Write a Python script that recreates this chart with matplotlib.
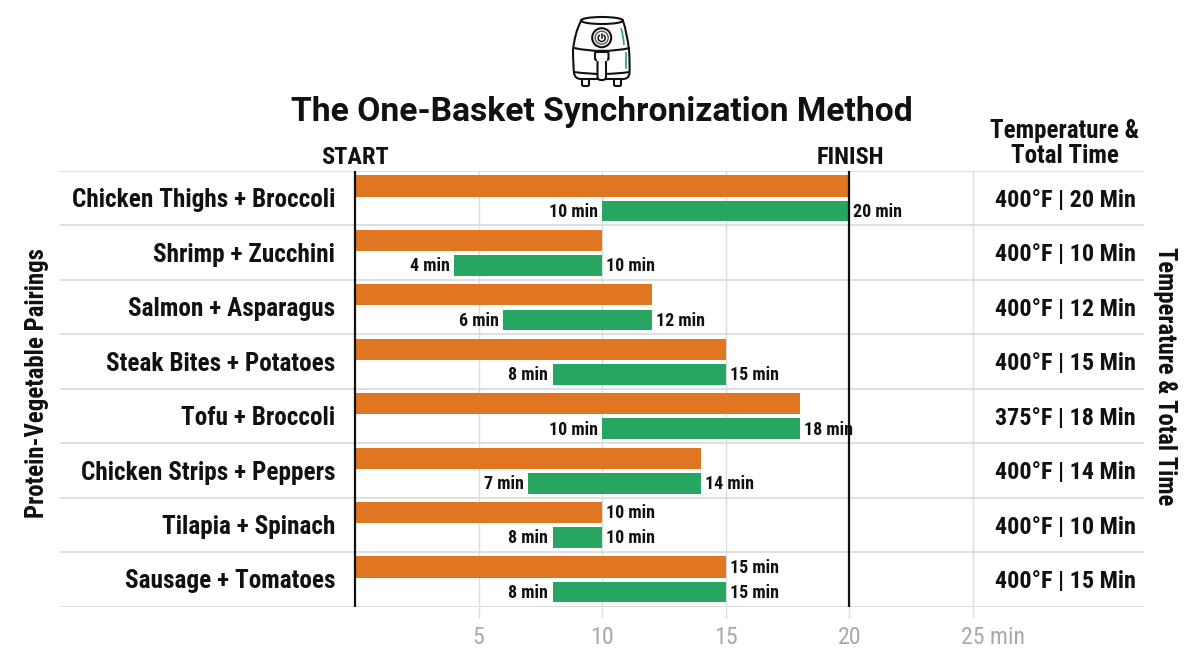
"""One-basket air fryer timing chart: when each food goes in so both finish together."""

from __future__ import annotations

import matplotlib

matplotlib.use("Agg")
from matplotlib import pyplot as plt
from matplotlib.patches import Arc, Circle, Ellipse, FancyBboxPatch, PathPatch
from matplotlib.path import Path
from matplotlib.transforms import ScaledTranslation

pairings = [
    "Chicken Thighs + Broccoli",
    "Shrimp + Zucchini",
    "Salmon + Asparagus",
    "Steak Bites + Potatoes",
    "Tofu + Broccoli",
    "Chicken Strips + Peppers",
    "Tilapia + Spinach",
    "Sausage + Tomatoes",
]
total_minutes = [20, 10, 12, 15, 18, 14, 10, 15]
veg_start = [10, 4, 6, 8, 10, 7, 8, 8]
temperature_f = [400, 400, 400, 400, 375, 400, 400, 400]
labelled_protein = ["Tilapia + Spinach", "Sausage + Tomatoes"]
tick_values = [5, 10, 15, 20, 25]

ORANGE = "#e07522"
GREEN = "#26a660"
GRID = "#dcdcdc"
INK = "#111111"

plt.rcParams["font.family"] = ["Roboto Condensed", "DejaVu Sans"]

W, H = 1204, 672
fig = plt.figure(figsize=(W / 100, H / 100), dpi=100, facecolor="white")

# chart area runs from the left end of the row rules to their right end
left, right, top, bottom = 60, 1144, 171, 606.5
ax = fig.add_axes([left / W, 1 - bottom / H, (right - left) / W, (bottom - top) / H])
px_per_min = 24.72
ax.set_xlim((left - 355) / px_per_min, (right - 355) / px_per_min)
ax.set_ylim(len(pairings), 0)

ax.set_yticks(range(len(pairings) + 1))
ax.set_xticks(tick_values)
ax.grid(True, axis="x", color=GRID, linewidth=1.0)
ax.grid(True, axis="y", color=GRID, linewidth=1.3)
ax.set_axisbelow(True)
for spine in ax.spines.values():
    spine.set_visible(False)
ax.tick_params(axis="y", length=0, labelleft=False)
ax.tick_params(axis="x", length=7.9, width=1, color=GRID, pad=6, labelsize=17.2, labelcolor="#a9a9a9")
ax.set_xticklabels([str(v) for v in tick_values[:-1]] + ["25 min"])

last = ax.get_xticklabels()[-1]
last.set_horizontalalignment("left")
last.set_transform(last.get_transform() + ScaledTranslation(-12 / 100, 0, fig.dpi_scale_trans))

for i, name in enumerate(pairings):
    total = total_minutes[i]
    start = veg_start[i]
    ax.barh(i + 0.275, total, height=0.39, color=ORANGE, zorder=2)
    ax.barh(i + 0.735, total - start, left=start, height=0.38, color=GREEN, zorder=2)

    ax.text(start - 0.18, i + 0.75, f"{start} min", ha="right", va="center",
            fontsize=13, fontweight="bold", color=INK)
    ax.text(total + 0.16, i + 0.75, f"{total} min", ha="left", va="center",
            fontsize=13, fontweight="bold", color=INK)
    if name in labelled_protein:
        ax.text(total + 0.16, i + 0.29, f"{total} min", ha="left", va="center",
                fontsize=13, fontweight="bold", color=INK)

    ax.text(-0.8, i + 0.54, name, ha="right", va="center", fontsize=18.2,
            fontweight="bold", color=INK)
    ax.text(28.75, i + 0.54, f"{temperature_f[i]}°F | {total} Min",
            ha="center", va="center", fontsize=17.4, fontweight="bold", color=INK)

ax.vlines([0, 20], 0, len(pairings), color=INK, linewidth=1.6, zorder=3)

# titles and headers are placed in pixel positions on an overlay
over = fig.add_axes([0, 0, 1, 1], facecolor="none")
over.set_xlim(0, W)
over.set_ylim(H, 0)
over.axis("off")

over.text(602, 111.5, "The One-Basket Synchronization Method", ha="center", va="center",
          fontsize=24.25, fontweight="bold", color=INK, family=["Roboto", "DejaVu Sans"])
over.text(355, 158, "START", ha="center", va="center", fontsize=17.6, fontweight="bold", color=INK)
over.text(850, 158, "FINISH", ha="center", va="center", fontsize=17.6, fontweight="bold", color=INK)
over.text(1065, 143.5, "Temperature &\nTotal Time", ha="center", va="center", fontsize=18,
          fontweight="bold", color=INK, linespacing=1.08)
over.text(37, 383, "Protein-Vegetable Pairings", rotation=90, ha="center", va="center",
          fontsize=17.8, fontweight="bold", color=INK)
over.text(1165, 376, "Temperature & Total Time", rotation=-90, ha="center", va="center",
          fontsize=17.7, fontweight="bold", color=INK)

# air fryer icon
LW = 1.5
outline = {"facecolor": "white", "edgecolor": INK, "linewidth": LW}
body = Path(
    [(581, 21), (575, 32), (573, 50), (573, 62), (574, 73), (575, 79), (581, 79),
     (623, 79), (629, 79), (629.5, 73), (630, 62), (629, 50), (627, 32), (623, 21), (581, 21)],
    [Path.MOVETO, Path.CURVE3, Path.CURVE3, Path.CURVE3, Path.CURVE3, Path.CURVE3, Path.CURVE3,
     Path.LINETO, Path.CURVE3, Path.CURVE3, Path.CURVE3, Path.CURVE3, Path.CURVE3, Path.CURVE3,
     Path.CLOSEPOLY],
)
over.add_patch(FancyBboxPatch((582, 78), 7, 8, boxstyle="round,pad=0,rounding_size=1.5", **outline))
over.add_patch(FancyBboxPatch((614, 78), 7, 8, boxstyle="round,pad=0,rounding_size=1.5", **outline))
over.add_patch(PathPatch(body, **outline))
over.add_patch(Ellipse((602, 20.5), 42, 7, **outline))
for x_a, y_a, x_b, y_mid, x_c in ((574, 48, 602, 54, 630), (574, 72, 602, 76, 630)):
    over.add_patch(PathPatch(Path([(x_a, y_a), (x_b, y_mid), (x_c, y_a)],
                                  [Path.MOVETO, Path.CURVE3, Path.CURVE3]),
                             fill=False, edgecolor=INK, linewidth=LW))
over.add_patch(Circle((601.7, 37.7), 9.5, **outline))
over.add_patch(Circle((601.7, 37.7), 6.5, fill=False, edgecolor="#555555", linewidth=1.0))
over.add_patch(Arc((601.7, 38), 7, 7, theta1=-60, theta2=240, edgecolor=INK, linewidth=1.1))
over.plot([601.7, 601.7], [33.5, 37.5], color=INK, linewidth=1.1)
over.add_patch(FancyBboxPatch((597.5, 56), 8.5, 24, boxstyle="round,pad=0,rounding_size=3.5", **outline))
over.add_patch(FancyBboxPatch((595, 52), 13.5, 8, boxstyle="round,pad=0,rounding_size=1.5", **outline))
over.plot([597.5, 605.9], [60, 60], color="white", linewidth=1.5)
over.add_patch(PathPatch(Path([(621, 28), (623.5, 36), (624, 45)], [Path.MOVETO, Path.CURVE3, Path.CURVE3]),
                         fill=False, edgecolor=GREEN, linewidth=1.2))
over.plot([625.7, 625.7], [53, 68], color=GREEN, linewidth=1.2)

fig.savefig("out.png", dpi=100)
